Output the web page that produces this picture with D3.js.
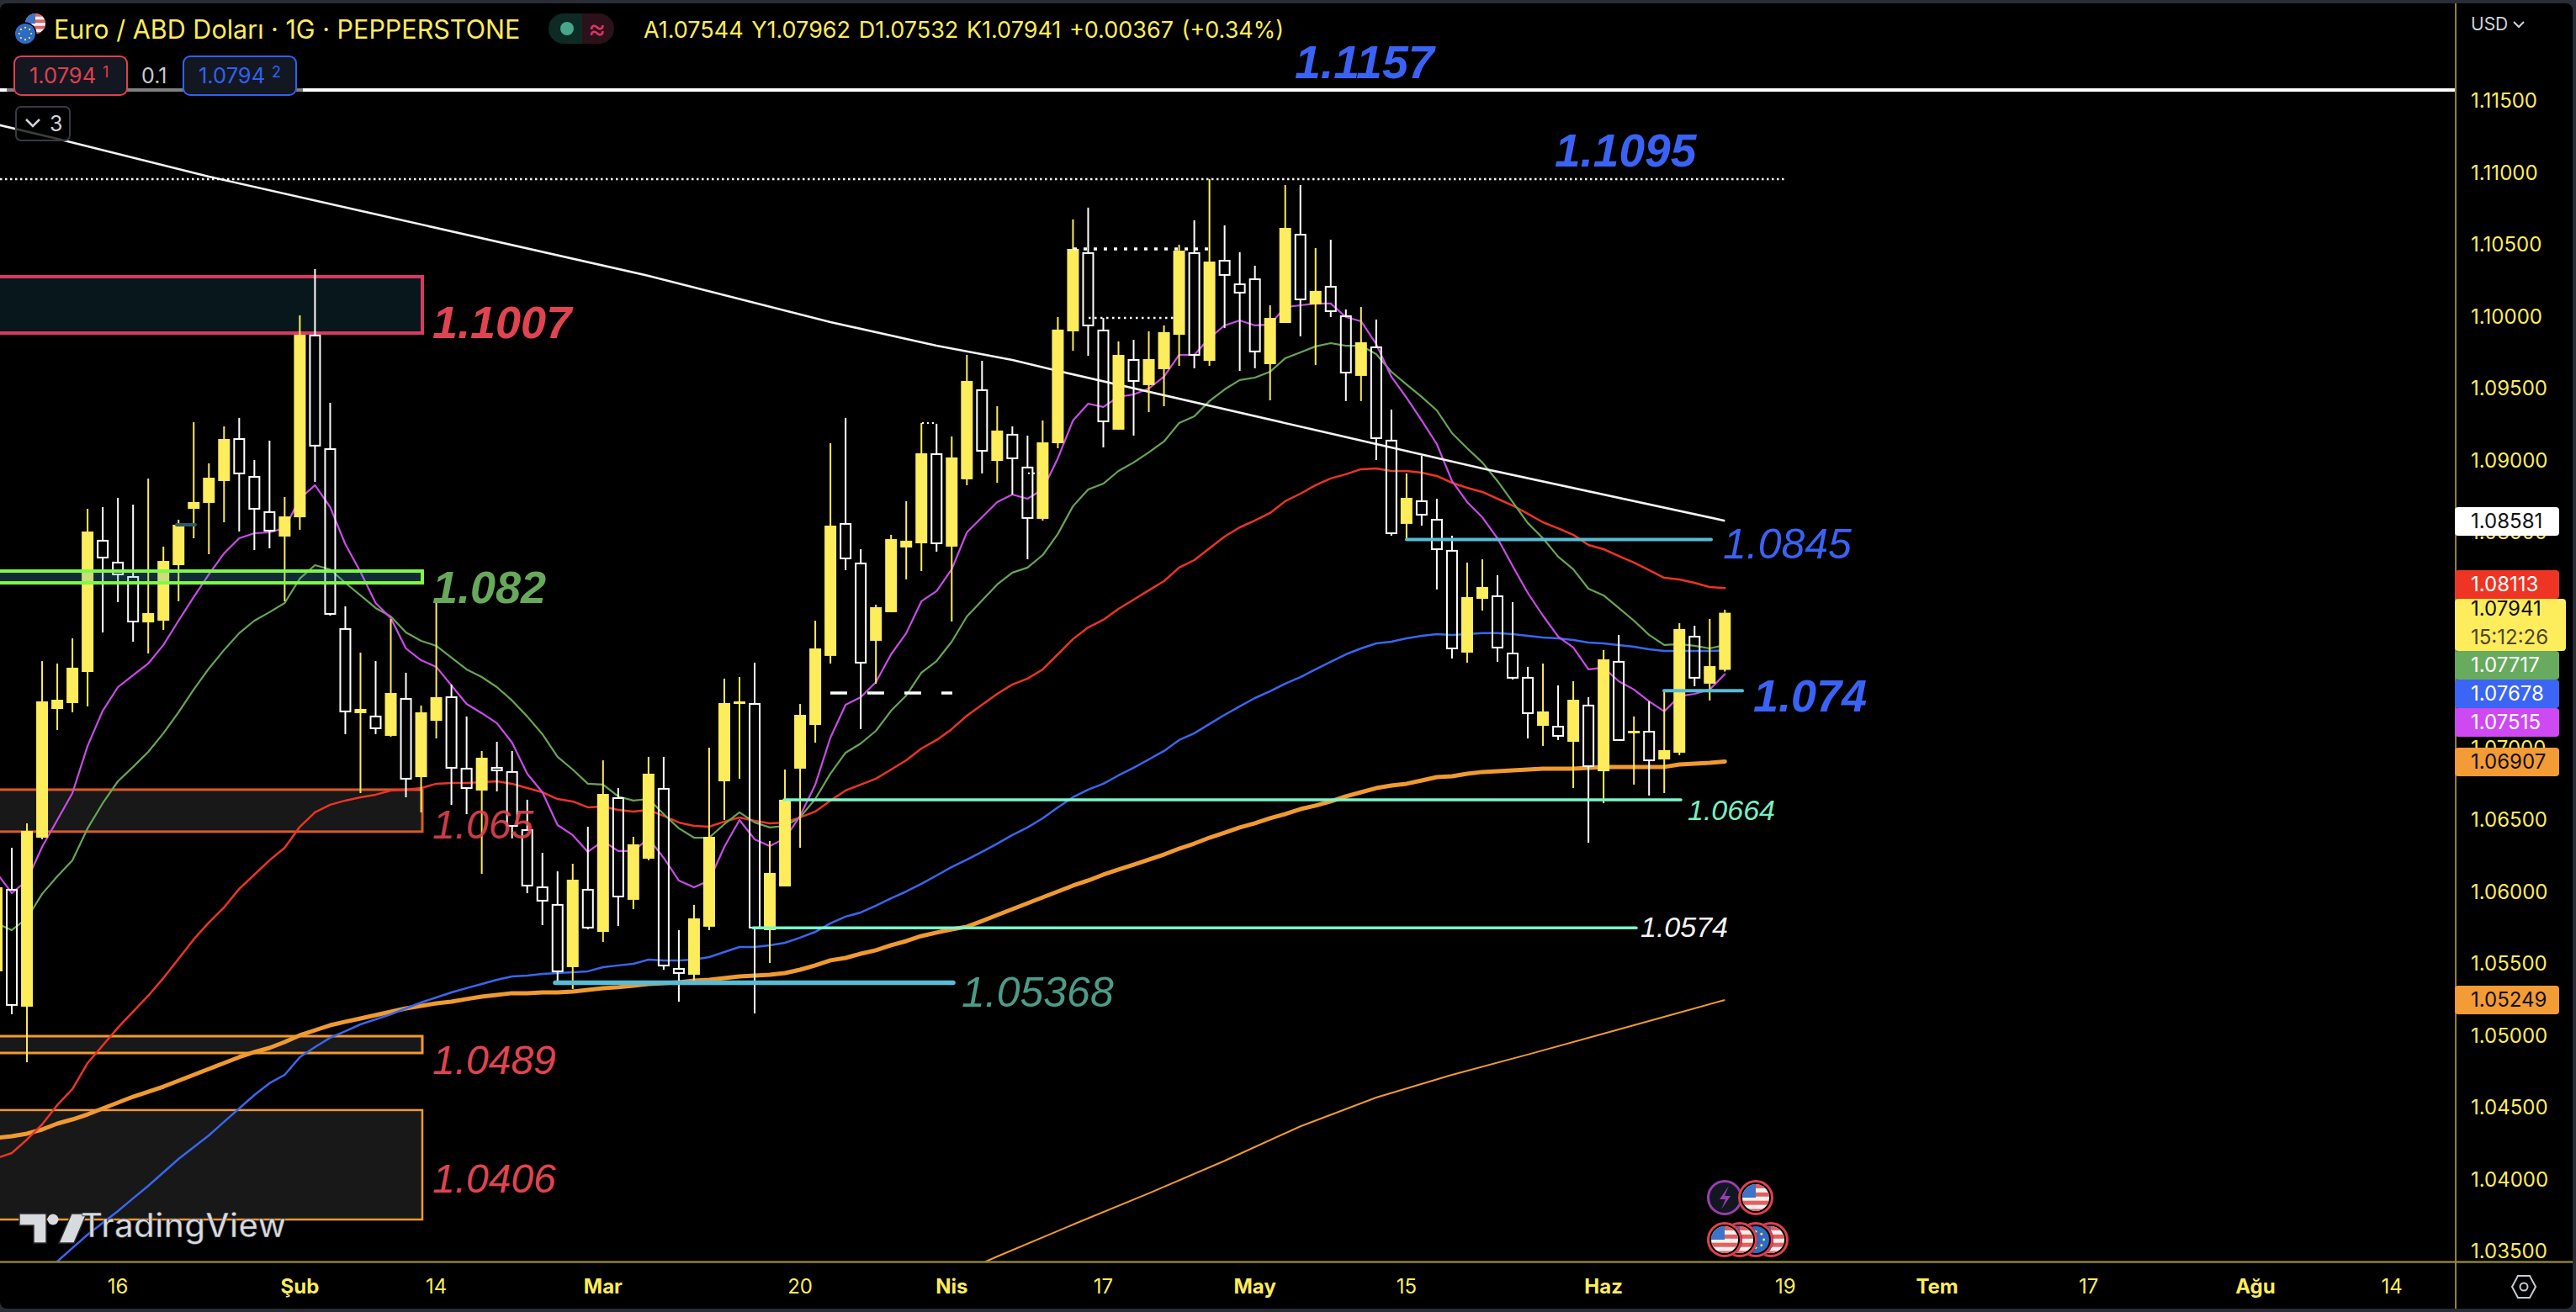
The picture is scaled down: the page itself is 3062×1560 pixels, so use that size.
<!DOCTYPE html>
<html><head><meta charset="utf-8">
<script src="https://cdn.jsdelivr.net/npm/d3@7/dist/d3.min.js"></script>
<style>html,body{margin:0;padding:0;background:#2a2c36;overflow:hidden}svg{display:block}</style>
</head><body><svg id="c" width="3062" height="1560"></svg>
<script>
// ---------- data ----------
const highs=[1.06120,1.06307,1.06477,1.07605,1.07588,1.07763,1.08664,1.08676,1.08740,1.08693,
1.08874,1.08401,1.08588,1.09266,1.08980,1.09237,1.09296,1.09003,1.09138,1.08746,
1.10009,1.10331,1.09401,1.07986,1.07664,1.07605,1.07898,1.07524,1.07296,1.08044,
1.07442,1.07220,1.06980,1.07044,1.06980,1.06641,1.06272,1.06143,1.06196,1.06453,
1.06915,1.06722,1.06383,1.06939,1.06939,1.05734,1.05910,1.07003,1.07483,1.07494,
1.07594,1.06354,1.06851,1.07307,1.07886,1.09120,1.09296,1.08383,1.07997,1.08483,
1.08717,1.09260,1.09255,1.09167,1.09734,1.09693,1.09377,1.09237,1.09173,1.09278,
1.09997,1.10676,1.10758,1.09991,1.09828,1.09839,1.09898,1.09939,1.10500,1.10670,
1.10956,1.10635,1.10448,1.10354,1.10079,1.10915,1.10915,1.10477,1.10535,1.10050,
1.10067,1.09980,1.09354,1.08910,1.09032,1.08734,1.08477,1.08290,1.08313,1.08202,
1.08015,1.07565,1.07588,1.07436,1.07465,1.07354,1.07682,1.07787,1.07220,1.07325,
1.07389,1.07869,1.07851,1.07898,1.07962];
const bodyTops=[1.06032,1.06015,1.06424,1.07325,1.07336,1.07559,1.08506,1.08442,1.08290,1.08190,
1.07939,1.08301,1.08553,1.08711,1.08880,1.09149,1.09149,1.08886,1.08641,1.08611,
1.09874,1.09869,1.09079,1.07828,1.07272,1.07220,1.07383,1.07342,1.07249,1.07354,
1.07354,1.06857,1.06933,1.06863,1.06834,1.06430,1.06032,1.05910,1.06085,1.06015,
1.06681,1.06652,1.06331,1.06822,1.06717,1.05465,1.05816,1.06383,1.07313,1.07325,
1.07307,1.06132,1.06641,1.07231,1.07693,1.08547,1.08559,1.08284,1.07980,1.08453,
1.08442,1.09050,1.09044,1.09021,1.09553,1.09489,1.09208,1.09179,1.08951,1.09126,
1.09910,1.10471,1.10442,1.09904,1.09734,1.09699,1.09705,1.09892,1.10459,1.10442,
1.10383,1.10389,1.10225,1.10260,1.09991,1.10617,1.10570,1.10179,1.10208,1.10003,
1.09822,1.09787,1.09138,1.08740,1.08717,1.08588,1.08372,1.08050,1.08120,1.08056,
1.07658,1.07489,1.07255,1.07149,1.07336,1.07296,1.07617,1.07600,1.07120,1.07114,
1.06986,1.07828,1.07775,1.07570,1.07941];
const bodyBottoms=[1.05448,1.05214,1.05202,1.06377,1.07272,1.07313,1.07529,1.08325,1.08208,1.07880,
1.07874,1.07886,1.08272,1.08664,1.08705,1.08857,1.08910,1.08664,1.08512,1.08471,
1.08605,1.09103,1.07933,1.07255,1.07243,1.07138,1.07085,1.06787,1.06798,1.07190,
1.06863,1.06722,1.06705,1.06845,1.06459,1.06044,1.05939,1.05448,1.05477,1.05752,
1.05722,1.05968,1.05945,1.06231,1.05488,1.05436,1.05424,1.05758,1.06769,1.07307,
1.05752,1.05734,1.06038,1.06857,1.07161,1.07641,1.08319,1.07594,1.07746,1.07945,
1.08395,1.08424,1.08424,1.08401,1.08869,1.09067,1.08997,1.09015,1.08600,1.08594,
1.09120,1.09898,1.09939,1.09272,1.09214,1.09553,1.09524,1.09635,1.09874,1.09734,
1.09693,1.10290,1.10167,1.09758,1.09670,1.09956,1.10120,1.10085,1.10038,1.09611,
1.09588,1.09155,1.08494,1.08559,1.08623,1.08383,1.07693,1.07664,1.08038,1.07699,
1.07489,1.07243,1.07155,1.07085,1.07044,1.06874,1.06839,1.07056,1.07103,1.06915,
1.06921,1.06968,1.07489,1.07448,1.07544];
const lows=[1.05360,1.05149,1.04816,1.06366,1.07126,1.07249,1.07290,1.07804,1.08015,1.07740,
1.07658,1.07822,1.08021,1.08459,1.08348,1.08570,1.08506,1.08377,1.08389,1.08021,
1.08518,1.08851,1.07921,1.07097,1.06687,1.07097,1.07079,1.06658,1.06553,1.07067,
1.06605,1.06541,1.06126,1.06699,1.06372,1.05991,1.05769,1.05372,1.05325,1.05740,
1.05652,1.05763,1.05880,1.06220,1.05459,1.05237,1.05377,1.05734,1.06500,1.06787,
1.05155,1.05506,1.06038,1.06307,1.07038,1.07588,1.08237,1.07132,1.07448,1.07945,
1.08173,1.08231,1.08366,1.07880,1.08828,1.08910,1.08845,1.08763,1.08313,1.08582,
1.09085,1.09763,1.09728,1.09091,1.09214,1.09173,1.09336,1.09377,1.09658,1.09641,
1.09658,1.09921,1.09623,1.09641,1.09418,1.09956,1.09863,1.09664,1.09997,1.09413,
1.09413,1.09003,1.08477,1.08459,1.08547,1.08103,1.07623,1.07594,1.07956,1.07600,
1.07477,1.07067,1.07015,1.07056,1.06722,1.06342,1.06617,1.07056,1.06746,1.06670,
1.06687,1.06951,1.07430,1.07331,1.07532];
const bullish=[1,0,1,1,1,1,1,0,0,0, 1,1,1,1,1,1,0,0,0,1, 1,0,0,0,1,0,1,0,1,1, 0,0,1,0,0,0,0,0,1,0,
1,0,1,1,0,0,1,1,1,1, 0,1,1,1,1,1,0,0,1,1, 1,1,0,1,1,0,1,0,0,1, 1,1,0,0,1,0,1,1,1,0,
1,0,0,0,1,1,0,1,0,0, 1,0,0,1,0,0,0,1,1,0, 0,0,1,0,1,0,1,0,1,0, 1,1,0,1,1];

const emaPurple=[1.06132,1.05992,1.06079,1.06313,1.06500,1.06687,1.07015,1.07260,1.07424,1.07506,
1.07588,1.07717,1.07886,1.08050,1.08208,1.08354,1.08459,1.08494,1.08500,1.08529,
1.08734,1.08828,1.08676,1.08418,1.08225,1.08009,1.07904,1.07693,1.07611,1.07565,
1.07436,1.07307,1.07243,1.07173,1.07038,1.06822,1.06693,1.06465,1.06395,1.06278,
1.06354,1.06284,1.06284,1.06372,1.06237,1.06079,1.06032,1.06079,1.06313,1.06500,
1.06366,1.06319,1.06372,1.06529,1.06746,1.07073,1.07301,1.07354,1.07459,1.07652,
1.07799,1.08021,1.08091,1.08243,1.08500,1.08605,1.08711,1.08763,1.08734,1.08798,
1.09015,1.09278,1.09395,1.09372,1.09442,1.09459,1.09500,1.09582,1.09734,1.09734,
1.09851,1.09939,1.09974,1.09939,1.09945,1.10067,1.10079,1.10091,1.10091,1.09997,
1.09968,1.09810,1.09582,1.09436,1.09278,1.09114,1.08857,1.08711,1.08605,1.08459,
1.08266,1.08079,1.07921,1.07775,1.07699,1.07547,1.07559,1.07465,1.07407,1.07325,
1.07255,1.07360,1.07377,1.07407,1.07515];
const emaGreen=[1.05781,1.05734,1.05816,1.05986,1.06108,1.06220,1.06442,1.06617,1.06769,1.06869,
1.06974,1.07103,1.07249,1.07407,1.07553,1.07682,1.07799,1.07886,1.07945,1.08009,
1.08179,1.08272,1.08243,1.08149,1.08062,1.07974,1.07915,1.07804,1.07746,1.07711,
1.07629,1.07547,1.07494,1.07424,1.07331,1.07220,1.07097,1.06939,1.06851,1.06752,
1.06746,1.06664,1.06635,1.06646,1.06541,1.06442,1.06377,1.06377,1.06471,1.06553,
1.06483,1.06448,1.06459,1.06518,1.06646,1.06822,1.06968,1.07032,1.07120,1.07260,
1.07366,1.07524,1.07605,1.07740,1.07915,1.08027,1.08138,1.08220,1.08255,1.08342,
1.08489,1.08682,1.08798,1.08839,1.08927,1.08986,1.09056,1.09132,1.09260,1.09307,
1.09413,1.09494,1.09559,1.09576,1.09617,1.09711,1.09752,1.09793,1.09816,1.09798,
1.09798,1.09740,1.09617,1.09529,1.09442,1.09348,1.09190,1.09085,1.08986,1.08857,
1.08711,1.08565,1.08459,1.08331,1.08243,1.08108,1.08062,1.07974,1.07886,1.07787,
1.07717,1.07723,1.07711,1.07693,1.07717];
const emaRed=[1.04149,1.04184,1.04278,1.04383,1.04518,1.04629,1.04810,1.04933,1.05056,1.05167,
1.05278,1.05401,1.05535,1.05670,1.05787,1.05892,1.06021,1.06120,1.06220,1.06307,
1.06453,1.06553,1.06606,1.06635,1.06658,1.06676,1.06705,1.06711,1.06722,1.06752,
1.06758,1.06758,1.06763,1.06769,1.06752,1.06722,1.06693,1.06646,1.06629,1.06588,
1.06594,1.06570,1.06559,1.06570,1.06529,1.06483,1.06459,1.06453,1.06489,1.06518,
1.06494,1.06477,1.06483,1.06518,1.06559,1.06635,1.06705,1.06746,1.06787,1.06851,
1.06915,1.06997,1.07056,1.07132,1.07225,1.07301,1.07377,1.07442,1.07483,1.07547,
1.07652,1.07758,1.07839,1.07892,1.07968,1.08032,1.08097,1.08161,1.08255,1.08307,
1.08389,1.08471,1.08535,1.08582,1.08635,1.08717,1.08769,1.08828,1.08875,1.08904,
1.08939,1.08945,1.08927,1.08927,1.08915,1.08892,1.08845,1.08810,1.08781,1.08734,
1.08687,1.08629,1.08570,1.08529,1.08483,1.08412,1.08383,1.08336,1.08290,1.08237,
1.08184,1.08173,1.08149,1.08120,1.08113];
const blueStartBar=3;
const emaBlue=[1.03360,1.03430,1.03524,1.03617,1.03699,1.03781,1.03869,
1.03956,1.04050,1.04143,1.04225,1.04307,1.04401,1.04494,1.04588,1.04670,1.04728,
1.04851,1.04921,1.04986,1.05032,1.05079,1.05114,1.05149,1.05190,1.05231,1.05266,
1.05301,1.05331,1.05360,1.05389,1.05412,1.05418,1.05430,1.05436,1.05442,1.05448,
1.05477,1.05489,1.05500,1.05529,1.05524,1.05524,1.05529,1.05547,1.05582,1.05617,
1.05617,1.05629,1.05646,1.05682,1.05722,1.05781,1.05828,1.05857,1.05904,1.05956,
1.06003,1.06056,1.06114,1.06173,1.06225,1.06278,1.06336,1.06395,1.06448,1.06512,
1.06588,1.06658,1.06711,1.06752,1.06810,1.06863,1.06921,1.06980,1.07056,1.07103,
1.07167,1.07231,1.07290,1.07348,1.07395,1.07448,1.07494,1.07547,1.07600,1.07652,
1.07693,1.07728,1.07740,1.07763,1.07781,1.07793,1.07787,1.07793,1.07799,1.07799,
1.07793,1.07781,1.07769,1.07763,1.07752,1.07734,1.07728,1.07717,1.07705,1.07687,
1.07676,1.07676,1.07676,1.07676,1.07678];
const smaOrange=[1.04290,1.04301,1.04319,1.04348,1.04389,1.04418,1.04453,1.04494,1.04535,1.04576,
1.04611,1.04646,1.04687,1.04728,1.04769,1.04810,1.04851,1.04886,1.04915,1.04956,
1.05003,1.05038,1.05073,1.05097,1.05120,1.05143,1.05167,1.05190,1.05208,1.05225,
1.05237,1.05255,1.05272,1.05284,1.05296,1.05296,1.05301,1.05301,1.05307,1.05319,
1.05331,1.05337,1.05348,1.05360,1.05366,1.05372,1.05383,1.05389,1.05401,1.05412,
1.05418,1.05424,1.05436,1.05459,1.05489,1.05524,1.05541,1.05570,1.05594,1.05629,
1.05658,1.05693,1.05717,1.05740,1.05758,1.05798,1.05839,1.05880,1.05921,1.05962,
1.06003,1.06044,1.06079,1.06120,1.06155,1.06190,1.06225,1.06260,1.06301,1.06336,
1.06377,1.06412,1.06448,1.06477,1.06512,1.06541,1.06576,1.06600,1.06629,1.06664,
1.06693,1.06722,1.06740,1.06752,1.06775,1.06798,1.06804,1.06822,1.06834,1.06839,
1.06845,1.06851,1.06857,1.06857,1.06857,1.06863,1.06869,1.06869,1.06869,1.06869,
1.06869,1.06886,1.06892,1.06898,1.06907];
const thinOrangeBars=[63,66,71,76,81,86,91,96,101,106,111,114];
const thinOrangeVals=[1.03325,1.03465,1.03687,1.03904,1.04130,1.04370,1.04570,1.04728,1.04869,1.05015,1.05161,1.05249];
const trendBars=[0,4,14,43,55,62,67,70,98,114];
const trendVals=[1.11337,1.11237,1.10974,1.10284,1.09962,1.09798,1.09699,1.09623,1.08945,1.08581];

const yTicks=[1.115,1.11,1.105,1.1,1.095,1.09,1.085,1.07,1.065,1.06,1.055,1.05,1.045,1.04,1.035];
const timeLabels=["16","Şub","14","Mar","20","Nis","17","May","15","Haz","19","Tem","17","Ağu","14"];
const timeBars=[8,20,29,40,53,63,73,83,93,106,118,128,138,149,158];
const timeBold=["Şub","Mar","Nis","May","Haz","Tem","Ağu"];
const zones=[{top:1.10278,bot:1.09886,label:"1.1007"},{top:1.06711,bot:1.06419,label:"1.065"},
             {top:1.04997,bot:1.04880,label:"1.0489"},{top:1.04483,bot:1.03722,label:"1.0406"}];
const greenZone={top:1.08231,bot:1.08149,label:"1.082"};
const priceTags=["1.08581","1.08113","1.07941","1.07717","1.07678","1.07515","1.06907","1.05249"];
const clockText="15:12:26";

// ---------- scales ----------
const W=3062,H=1560,axisX=2919,axisY=1500;
const x=d3.scaleLinear().domain([0,114]).range([-4,2050.3]);
const y=d3.scaleLinear().domain([1.035,1.115]).range([1488,120]);
const svg=d3.select("#c");
const YEL="#fdec5c",SANS="Inter, 'Noto Sans', sans-serif",LAB="'Liberation Sans', Arial, sans-serif";
svg.append("rect").attr("width",W).attr("height",H).attr("fill","#2a2c36");
svg.append("rect").attr("x",0).attr("y",4).attr("width",3058).attr("height",1552).attr("rx",8).attr("fill","#000");
const defs=svg.append("defs");
defs.append("clipPath").attr("id","plot").append("rect").attr("x",0).attr("y",4).attr("width",axisX).attr("height",axisY-4);
const g=svg.append("g").attr("clip-path","url(#plot)");

// zones under the series
const zoneStyle=[["#d83a62","#07171b",4],["#d85a2a","#181818",3],["#f09a30","#181818",3],["#f09a30","#181818",2.5]];
zones.forEach((z,i)=>{g.append("rect").attr("x",-6).attr("width",508).attr("y",y(z.top)).attr("height",y(z.bot)-y(z.top))
 .attr("fill",zoneStyle[i][1]).attr("stroke",zoneStyle[i][0]).attr("stroke-width",zoneStyle[i][2]);});

// series
const line=d3.line().x(d=>x(d[0])).y(d=>y(d[1]));
const series=(vals,start,col,w)=>g.append("path").attr("d",line(vals.map((v,i)=>[i+start,v]))).attr("fill","none")
  .attr("stroke",col).attr("stroke-width",w).attr("stroke-linejoin","round").attr("stroke-linecap","round");
g.append("path").attr("d",line(thinOrangeBars.map((b,i)=>[b,thinOrangeVals[i]]))).attr("fill","none").attr("stroke","#f09a30").attr("stroke-width",2);
series(smaOrange,0,"#f09a30",5);
series(emaBlue,blueStartBar,"#3a66ee",2.5);
series(emaRed,0,"#ea3524",2.5);
series(emaGreen,0,"#68a554",2.2);
series(emaPurple,0,"#c84ce8",2.2);
g.append("path").attr("d",line(trendBars.map((b,i)=>[b,trendVals[i]]))).attr("fill","none").attr("stroke","#f4f4f4").attr("stroke-width",2.6);

// candles
const candles=highs.map((h,i)=>({i,h,t:bodyTops[i],b:bodyBottoms[i],l:lows[i],up:bullish[i]===1}));
const cg=g.selectAll("g.c").data(candles).join("g");
cg.append("line").attr("x1",d=>x(d.i)).attr("x2",d=>x(d.i)).attr("y1",d=>y(d.h)).attr("y2",d=>d.up?y(d.l):y(d.t))
  .attr("stroke",d=>d.up?YEL:"#fff").attr("stroke-width",2);
cg.filter(d=>!d.up).append("line").attr("x1",d=>x(d.i)).attr("x2",d=>x(d.i)).attr("y1",d=>y(d.b)).attr("y2",d=>y(d.l)).attr("stroke","#fff").attr("stroke-width",2);
cg.filter(d=>d.up).append("rect").attr("x",d=>x(d.i)-7).attr("width",14).attr("y",d=>y(d.t)).attr("height",d=>Math.max(2,y(d.b)-y(d.t))).attr("fill",YEL);
cg.filter(d=>!d.up).append("rect").attr("x",d=>x(d.i)-6).attr("width",12).attr("y",d=>y(d.t)).attr("height",d=>Math.max(1,y(d.b)-y(d.t))).attr("fill","none").attr("stroke","#fff").attr("stroke-width",2);

// green zone over candles
g.append("rect").attr("x",-6).attr("width",508).attr("y",y(greenZone.top)).attr("height",y(greenZone.bot)-y(greenZone.top))
 .attr("fill","#3fb0cf").attr("fill-opacity",.25).attr("stroke","#7dfa45").attr("stroke-width",4);

// horizontal levels
const hl=(x1,x2,v,col,w,dash,cap)=>g.append("line").attr("x1",x1).attr("x2",x2).attr("y1",y(v)).attr("y2",y(v)).attr("stroke",col).attr("stroke-width",w)
  .attr("stroke-dasharray",dash||null).attr("stroke-linecap",cap||"butt");
hl(0,axisX,1.11576,"#fff",4);
hl(0,2121,1.10956,"#fff",2.5,"2.5 3.5");
hl(1276,1437,1.10471,"#fff",3.5,"4 8");
hl(1294,1398,1.09991,"#fff",2.5,"2.5 4.5");
hl(1096,1110,1.09260,"#fff",2,"2 4");
hl(1222,1236,1.08911,"#fff",2,"2 4");
hl(987,1132,1.07383,"#fff",3.5,"20 24");
hl(210,232,1.08553,"#2f5a66",4,null,"round");
hl(1672,2034,1.0845,"#57bcd6",4,null,"round");
hl(1978,2071,1.07399,"#57bcd6",4,null,"round");
hl(932,1998,1.06640,"#7df7c9",3.5,null,"round");
hl(895,1945,1.05750,"#7df7c9",3.5,null,"round");
hl(660,1133,1.05368,"#57bcd6",5.5,null,"round");

// labels on chart
const lab=(px,py,t,col,size,weight,op)=>svg.append("text").attr("x",px).attr("y",py).text(t).attr("fill",col).attr("font-family",LAB)
  .attr("font-size",size).attr("font-style","italic").attr("font-weight",weight||400).attr("opacity",op||1);
lab(1539,93,"1.1157","#3a63f5",55.5,700);
lab(1848,198,"1.1095","#3a63f5",55,700);
lab(514,402,zones[0].label,"#e04450",54,700);
lab(514,717,greenZone.label,"#68a85a",54,700);
lab(514,997,zones[1].label,"#e04450",48,400,.9);
lab(514,1277,zones[2].label,"#e04450",48);
lab(514,1418,zones[3].label,"#e04450",48);
lab(2048,664,"1.0845","#3a63f5",50);
lab(2084,846,"1.074","#3a63f5",54,700);
lab(2006,975,"1.0664","#76f0c2",34);
lab(1950,1114,"1.0574","#f4f4f4",34);
lab(1143,1197,"1.05368","#4b9c88",50);

// axes frame
svg.append("line").attr("x1",axisX).attr("x2",axisX).attr("y1",4).attr("y2",1556).attr("stroke","#8f8232").attr("stroke-width",2);
svg.append("line").attr("x1",0).attr("x2",3058).attr("y1",axisY+.5).attr("y2",axisY+.5).attr("stroke","#8f8232").attr("stroke-width",2.5);

// price axis ticks
svg.selectAll("text.yt").data(yTicks).join("text").attr("x",2937).attr("y",d=>y(d)+8).text(d=>d.toFixed(5))
 .attr("fill",YEL).attr("font-family",SANS).attr("font-size",24);
// time axis
svg.selectAll("text.xt").data(timeLabels).join("text").attr("x",(d,i)=>x(timeBars[i])).attr("y",1538).attr("text-anchor","middle").text(d=>d)
 .attr("fill",YEL).attr("font-family",SANS).attr("font-size",24).attr("font-weight",d=>timeBold.includes(d)?700:400);

// price tags
const tagCenters=[620,695,743,791,825,859,906,1189];
const tagFill=["#ffffff","#ee3524",YEL,"#68ab5e","#3b66f5","#cf49f2","#f39b35","#f39b35"];
const tagText=["#111","#fff","#111","#fff","#fff","#fff","#111","#111"];
priceTags.forEach((t,i)=>{
  const h=i===2?62:34,wd=i===2?132:124,cy=tagCenters[i];
  svg.append("rect").attr("x",2918).attr("y",cy-h/2).attr("width",wd).attr("height",h).attr("rx",4).attr("fill",tagFill[i]);
  svg.append("text").attr("x",2937).attr("y",i===2?cy-11:cy+8).text(t).attr("fill",tagText[i]).attr("font-family",SANS).attr("font-size",24);
});
svg.append("text").attr("x",2937).attr("y",766).text(clockText).attr("fill","#4d4620").attr("font-family",SANS).attr("font-size",24);

// USD + gear
svg.append("text").attr("x",2937).attr("y",36).text("USD").attr("fill","#d1d4dc").attr("font-family",SANS).attr("font-size",21);
svg.append("path").attr("d","M2988 26l6 6 6-6").attr("fill","none").attr("stroke","#d1d4dc").attr("stroke-width",2);
svg.append("path").attr("d","M2993 1517h14l7 13-7 13h-14l-7-13z").attr("fill","none").attr("stroke","#c8cbd3").attr("stroke-width",2);
svg.append("circle").attr("cx",3000).attr("cy",1530).attr("r",4.5).attr("fill","none").attr("stroke","#c8cbd3").attr("stroke-width",2);

// header
const hdr=(px,py,t,col,size,anchor)=>svg.append("text").attr("x",px).attr("y",py).text(t).attr("fill",col).attr("font-family",SANS).attr("font-size",size).attr("text-anchor",anchor||"start");
hdr(64,46,"Euro / ABD Doları · 1G · PEPPERSTONE",YEL,30.5);
hdr(765,45,"A1.07544 Y1.07962 D1.07532 K1.07941 +0.00367 (+0.34%)",YEL,27).attr("word-spacing",2);
svg.append("path").attr("d","M670 16h-0a18 18 0 0 0 0 36h22v-36z").attr("fill","#0e2a25");
svg.append("path").attr("d","M692 16h20a18 18 0 0 1 0 36h-20z").attr("fill","#2b1119");
svg.append("circle").attr("cx",674).attr("cy",34).attr("r",8).attr("fill","#46a78b");
hdr(699,45,"≈","#d9336b",32);
// flags
function flag(gr,cx,cy,r,kind,id){
  defs.append("clipPath").attr("id",id).append("circle").attr("cx",cx).attr("cy",cy).attr("r",r);
  const c=gr.append("g").attr("clip-path",`url(#${id})`);
  if(kind==="us"){
    c.append("rect").attr("x",cx-r).attr("y",cy-r).attr("width",2*r).attr("height",2*r).attr("fill","#f0f0f0");
    const sh=2*r/6.5;
    for(let k=0;k<4;k++)c.append("rect").attr("x",cx-r).attr("y",cy-r+k*2*sh).attr("width",2*r).attr("height",sh).attr("fill","#e2605e");
    c.append("rect").attr("x",cx-r).attr("y",cy-r).attr("width",r).attr("height",r).attr("fill","#3d74c9");
  } else {
    c.append("rect").attr("x",cx-r).attr("y",cy-r).attr("width",2*r).attr("height",2*r).attr("fill","#2f6bc4");
    d3.range(8).forEach(k=>c.append("circle").attr("cx",cx+r*.6*Math.cos(k*Math.PI/4)).attr("cy",cy+r*.6*Math.sin(k*Math.PI/4)).attr("r",r*.09).attr("fill",YEL));
  }
}
flag(svg,42,28,12,"us","f1");
svg.append("circle").attr("cx",30).attr("cy",40).attr("r",13.5).attr("fill","#000");
flag(svg,30,40,12,"eu","f2");

// order boxes
svg.append("line").attr("x1",8).attr("x2",360).attr("y1",107).attr("y2",107).attr("stroke","#808080").attr("stroke-width",4);
const box=(px,col,a,b)=>{
  svg.append("rect").attr("x",px).attr("y",67).attr("width",134).attr("height",46).attr("rx",8).attr("fill","#131722").attr("stroke",col).attr("stroke-width",2);
  hdr(px+18,99,a,col,25.5);
  hdr(px+105,92,b,col,18);
};
box(17,"#e0404f","1.0794","1");
hdr(168,99,"0.1","#c8cad0",25);
box(218,"#2f62f0","1.0794","2");
svg.append("rect").attr("x",19).attr("y",127).attr("width",64).attr("height",40).attr("rx",6).attr("fill","#000").attr("fill-opacity",.75).attr("stroke","#363a45").attr("stroke-width",2);
svg.append("path").attr("d","M31 142l8 8 8-8").attr("fill","none").attr("stroke","#d1d4dc").attr("stroke-width",2.5);
hdr(59,156,"3","#d1d4dc",25);

// TradingView logo
const logo=svg.append("g");
logo.append("path").attr("d","M23 1443h32v35h-15v-21h-17z M70 1478l15-35h18l-15 35z").attr("fill","#d8dade").attr("stroke","#2a2c30").attr("stroke-width",1.5);
logo.append("circle").attr("cx",63).attr("cy",1450).attr("r",6.5).attr("fill","#d8dade");
svg.append("text").attr("x",96).attr("y",1471).text("TradingView").attr("fill","#d8dade").attr("font-family",SANS).attr("font-weight",500).attr("font-size",40).attr("textLength",244).attr("stroke","#25272c").attr("stroke-width",.6);

// event icons
function icon(cx,cy,kind,id){
  svg.append("circle").attr("cx",cx).attr("cy",cy).attr("r",21).attr("fill","#000");
  if(kind==="bolt"){
    svg.append("circle").attr("cx",cx).attr("cy",cy).attr("r",19.5).attr("fill","#131722").attr("stroke","#9a3eb0").attr("stroke-width",3);
    svg.append("path").attr("d",`M${cx+5} ${cy-14}l-11 16h7l-5 12 11-16h-7z`).attr("fill","#9a3eb0");
  } else {
    flag(svg,cx,cy,16,kind,id);
    svg.append("circle").attr("cx",cx).attr("cy",cy).attr("r",19.5).attr("fill","none").attr("stroke","#e0404f").attr("stroke-width",3);
  }
}
icon(2050,1424,"bolt");
icon(2087,1424,"us","e1");
icon(2105,1474,"us","e2");
icon(2087,1474,"eu","e3");
icon(2068,1474,"us","e4");
icon(2050,1474,"us","e5");
</script></body></html>
